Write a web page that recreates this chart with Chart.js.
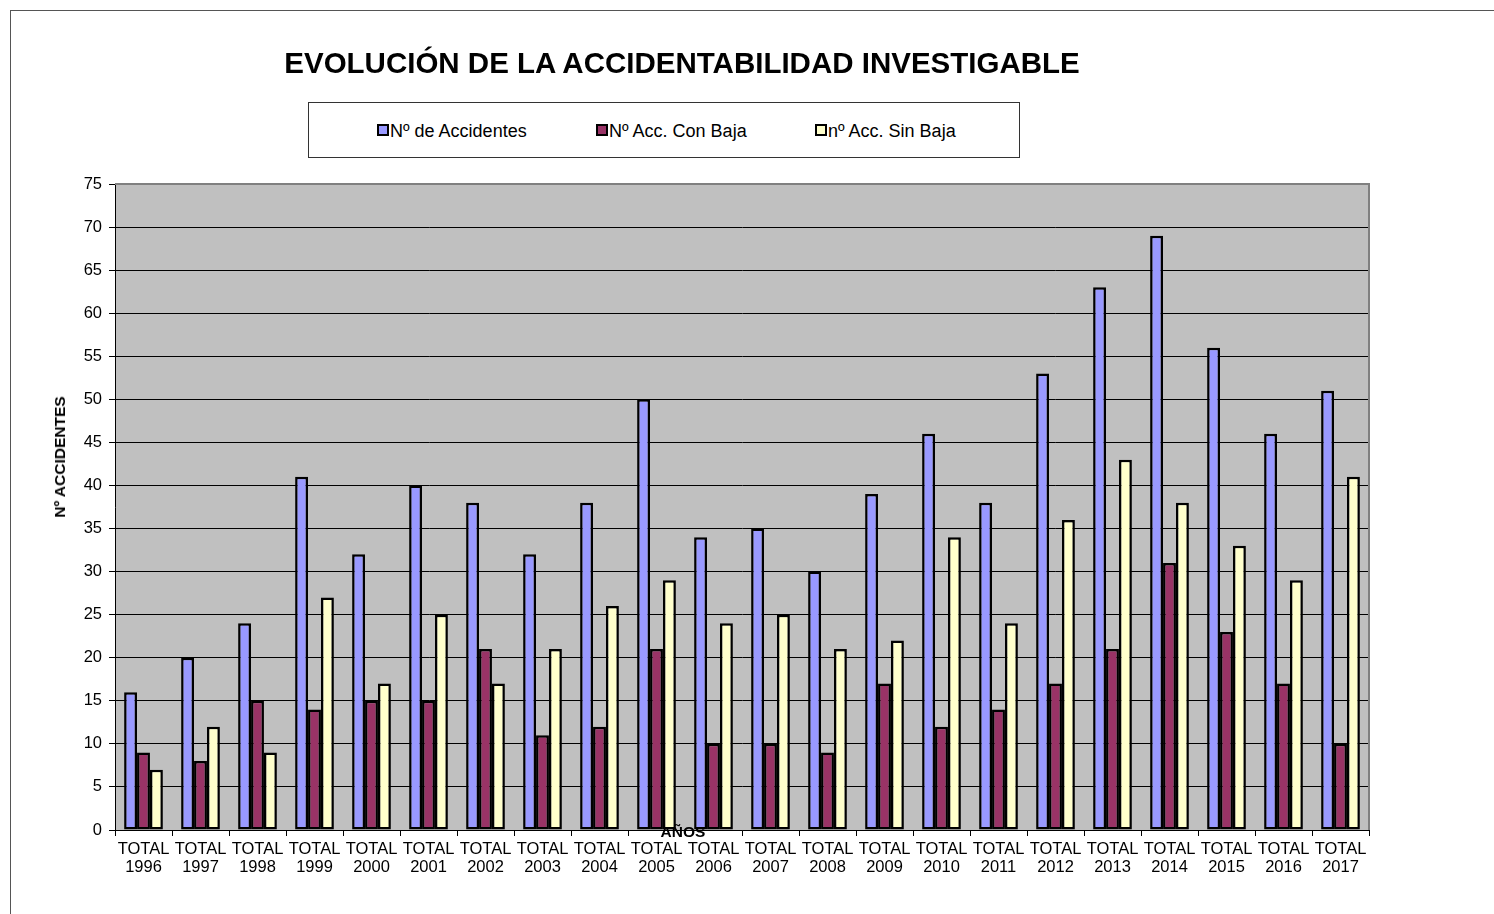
<!DOCTYPE html>
<html>
<head>
<meta charset="utf-8">
<script src="https://cdn.jsdelivr.net/npm/chart.js@4.4.0/dist/chart.umd.min.js"></script>
<style>
  body { margin: 0; background: #fff; font-family: "Liberation Sans", Arial, sans-serif; }
  #wrap { position: relative; width: 1494px; height: 914px; overflow: hidden; }
  #frame { position: absolute; left: 10px; top: 10px; width: 1500px; height: 920px;
           border-top: 1px solid #555; border-left: 1px solid #555; }
  #titulo { position: absolute; left: 0; width: 1364px; top: 46px; text-align: center;
            font-weight: bold; font-size: 29.5px; color: #000; }
  #leyenda { position: absolute; left: 308px; top: 102px; width: 710px; height: 54px;
             border: 1px solid #333; background: #fff; }
  .item { position: absolute; top: 18px; font-size: 18px; color: #000; white-space: nowrap; }
  .item i { display: inline-block; width: 8px; height: 8px; border: 2px solid #000;
            margin-right: 1px; vertical-align: 1px; }
  #ejeY { position: absolute; left: 60px; top: 457px; transform: translate(-50%, -50%) rotate(-90deg);
          font-weight: bold; font-size: 15.5px; white-space: nowrap; }
  #ejeX { position: absolute; left: 683px; top: 832px; transform: translate(-50%, -50%);
          font-weight: bold; font-size: 15.5px; }
  canvas { position: absolute; left: 0; top: 0; }
</style>
</head>
<body>
<div id="wrap">
  <div id="frame"></div>
  <canvas id="grafico" width="1494" height="914"></canvas>
  <div id="titulo">EVOLUCIÓN DE LA ACCIDENTABILIDAD INVESTIGABLE</div>
  <div id="leyenda"></div>
  <div id="ejeY">Nº ACCIDENTES</div>
  <div id="ejeX">AÑOS</div>
</div>
<script>
var anios = ['1996','1997','1998','1999','2000','2001','2002','2003','2004','2005','2006',
             '2007','2008','2009','2010','2011','2012','2013','2014','2015','2016','2017'];
var etiquetas = anios.map(function (a) { return ['TOTAL', a]; });

var nombres = ['Nº de Accidentes', 'Nº Acc. Con Baja', 'nº Acc. Sin Baja'];
var colores = ['#9999FF', '#993366', '#FFFFCC'];

var accidentes = [16, 20, 24, 41, 32, 40, 38, 32, 38, 50, 34, 35, 30, 39, 46, 38, 53, 63, 69, 56, 46, 51];
var conBaja    = [ 9,  8, 15, 14, 15, 15, 21, 11, 12, 21, 10, 10,  9, 17, 12, 14, 17, 21, 31, 23, 17, 10];
var sinBaja    = [ 7, 12,  9, 27, 17, 25, 17, 21, 26, 29, 24, 25, 21, 22, 34, 24, 36, 43, 38, 33, 29, 41];

var series = [accidentes, conBaja, sinBaja];

// leyenda en html
var leyenda = document.getElementById('leyenda');
for (var i = 0; i < nombres.length; i++) {
    var it = document.createElement('span');
    it.className = 'item';
    it.style.left = (68 + i * 219) + 'px';
    it.innerHTML = '<i style="background:' + colores[i] + '"></i>' + nombres[i];
    leyenda.appendChild(it);
}

var fondoGris = {
    id: 'fondoGris',
    beforeDraw: function (chart) {
        var a = chart.chartArea;
        var ctx = chart.ctx;
        ctx.save();
        ctx.fillStyle = '#C0C0C0';
        ctx.fillRect(a.left, a.top, a.right - a.left, a.bottom - a.top);
        ctx.restore();
    },
    afterDraw: function (chart) {
        var a = chart.chartArea;
        var ctx = chart.ctx;
        ctx.save();
        ctx.strokeStyle = '#808080';
        ctx.lineWidth = 2;
        ctx.beginPath();
        ctx.moveTo(a.left, a.top);
        ctx.lineTo(a.right, a.top);
        ctx.lineTo(a.right, a.bottom);
        ctx.stroke();
        ctx.restore();
    }
};

var datasets = series.map(function (s, i) {
    return {
        label: nombres[i],
        data: s,
        backgroundColor: colores[i],
        borderColor: '#000',
        borderWidth: 2.5,
        borderSkipped: false,
        categoryPercentage: 0.68,
        barPercentage: 1
    };
});

new Chart(document.getElementById('grafico'), {
    type: 'bar',
    data: { labels: etiquetas, datasets: datasets },
    options: {
        responsive: false,
        animation: false,
        layout: { padding: { left: 0, right: 125, top: 184, bottom: 0 } },
        plugins: { legend: { display: false }, tooltip: { enabled: false } },
        scales: {
            x: {
                afterFit: function (scale) { scale.height = 84; },
                grid: { display: true, offset: true, drawOnChartArea: false, color: '#000', tickLength: 6 },
                border: { color: '#000', width: 1 },
                ticks: { color: '#000', font: { family: 'Liberation Sans', size: 16.5, lineHeight: 1.1 }, padding: 4, maxRotation: 0, autoSkip: false }
            },
            y: {
                min: 0, max: 75,
                afterFit: function (scale) { scale.width = 115; },
                grid: { color: '#000', tickLength: 6 },
                border: { color: '#000', width: 1 },
                ticks: { stepSize: 5, color: '#000', font: { family: 'Liberation Sans', size: 16.5 }, padding: 7 }
            }
        }
    },
    plugins: [fondoGris]
});
</script>
</body>
</html>
